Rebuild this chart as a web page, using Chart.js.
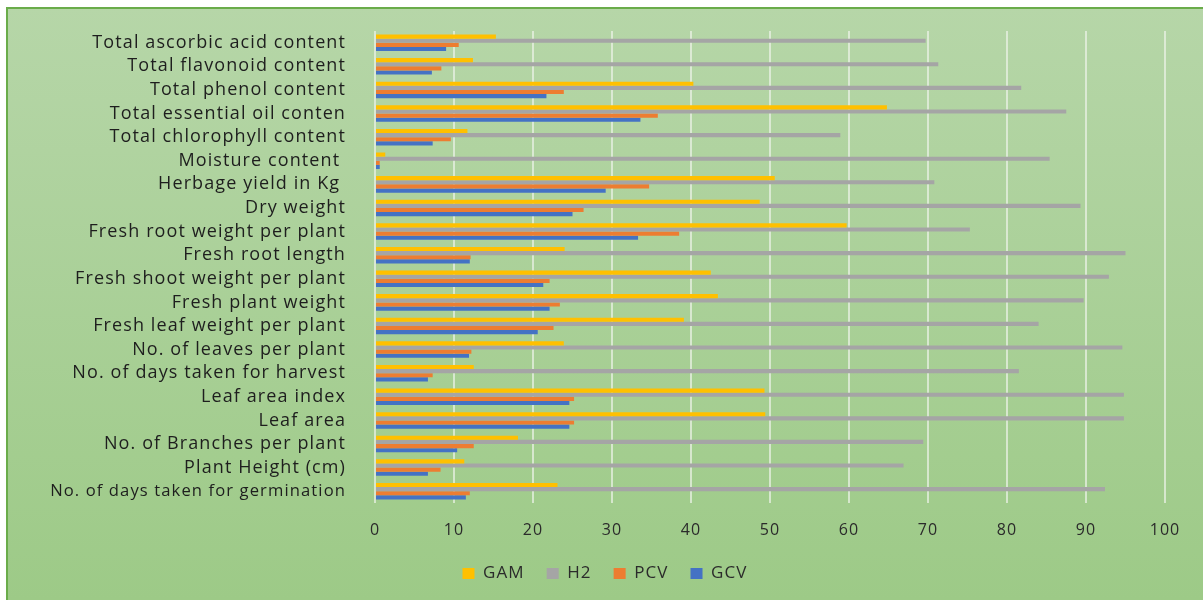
<!DOCTYPE html>
<html>
<head>
<meta charset="utf-8">
<script src="https://cdn.jsdelivr.net/npm/chart.js@4/dist/chart.umd.min.js"></script>
<style>
html,body{margin:0;padding:0;background:#fff;}
#wrap{width:1203px;height:600px;position:relative;}
</style>
</head>
<body>
<div id="wrap"><canvas id="c" width="1203" height="600"></canvas></div>
<script>
const categories = [
  "Total ascorbic acid content",
  "Total flavonoid content",
  "Total phenol content",
  "Total essential oil conten",
  "Total chlorophyll content",
  "Moisture content ",
  "Herbage yield in Kg ",
  "Dry weight",
  "Fresh root weight per plant",
  "Fresh root length",
  "Fresh shoot weight per plant",
  "Fresh plant weight",
  "Fresh leaf weight per plant",
  "No. of leaves per plant",
  "No. of days taken for harvest",
  "Leaf area index",
  "Leaf area",
  "No. of Branches per plant",
  "Plant Height (cm)",
  "No. of days taken for germination"
];
const GAM = [15.3, 12.4, 40.3, 64.8, 11.7, 1.3, 50.6, 48.7, 59.7, 24.0, 42.5, 43.4, 39.1, 23.9, 12.5, 49.3, 49.4, 18.1, 11.3, 23.1];
const H2  = [69.7, 71.3, 81.8, 87.5, 58.9, 85.4, 70.8, 89.3, 75.3, 95.0, 92.9, 89.7, 84.0, 94.6, 81.5, 94.8, 94.8, 69.4, 66.9, 92.4];
const PCV = [10.6, 8.4, 23.9, 35.8, 9.6, 0.6, 34.7, 26.4, 38.5, 12.1, 22.1, 23.4, 22.6, 12.2, 7.3, 25.2, 25.2, 12.5, 8.3, 12.0];
const GCV = [9.0, 7.2, 21.7, 33.6, 7.3, 0.6, 29.2, 25.0, 33.3, 12.0, 21.3, 22.1, 20.6, 11.9, 6.7, 24.6, 24.6, 10.4, 6.7, 11.5];
const xTicks = [0, 10, 20, 30, 40, 50, 60, 70, 80, 90, 100];

const PAD_LEFT = 45;
const PAD_BOTTOM = 8;
const PLOT_BOTTOM = 503;

const spacingPlugin = {
  id: 'spacing',
  beforeInit(chart) { chart.ctx.letterSpacing = '1.1px'; },
  beforeUpdate(chart) { chart.ctx.letterSpacing = '1.1px'; }
};

const bgPlugin = {
  id: 'bg',
  beforeDraw(chart) {
    const ctx = chart.ctx;
    const w = chart.width, h = chart.height;
    ctx.save();
    ctx.fillStyle = '#ffffff';
    ctx.fillRect(0, 0, w, h);
    const g = ctx.createLinearGradient(0, 7, 0, h);
    g.addColorStop(0, '#b6d6a8');
    g.addColorStop(1, '#9dca87');
    ctx.fillStyle = g;
    ctx.fillRect(6, 7, w, h);
    ctx.strokeStyle = '#6aac4a';
    ctx.lineWidth = 2;
    ctx.strokeRect(7, 8, w + 10, h + 10);
    ctx.restore();
  }
};

new Chart(document.getElementById('c'), {
  type: 'bar',
  data: {
    labels: categories,
    datasets: [
      { label: 'GAM', data: GAM, backgroundColor: '#FFC000' },
      { label: 'H2',  data: H2,  backgroundColor: '#A5A5A5' },
      { label: 'PCV', data: PCV, backgroundColor: '#ED7D31' },
      { label: 'GCV', data: GCV, backgroundColor: '#4472C4' }
    ]
  },
  options: {
    indexAxis: 'y',
    responsive: false,
    animation: false,
    devicePixelRatio: 1,
    layout: { padding: { top: 30, right: 38, bottom: PAD_BOTTOM, left: PAD_LEFT } },
    datasets: { bar: { categoryPercentage: 0.7, barPercentage: 1.0 } },
    scales: {
      x: {
        min: 0, max: 100,
        afterBuildTicks(scale) { scale.ticks = xTicks.map(v => ({ value: v })); },
        grid: { color: 'rgba(236,242,232,0.7)', lineWidth: 2, drawTicks: false },
        border: { display: false },
        ticks: { padding: 18, color: '#2b2b2b', font: { family: 'Open Sans', size: 16 } },
        afterFit(scale) {
          const lh = scale.chart.legend ? scale.chart.legend.height : 50;
          scale.height = 600 - PLOT_BOTTOM - PAD_BOTTOM - lh;
        }
      },
      y: {
        grid: { display: false },
        border: { display: false },
        ticks: {
          padding: 21, color: '#1e1e1e', autoSkip: false,
          font: (ctx) => ({ family: 'Open Sans', size: (ctx.index === categories.length - 1) ? 16.6 : 18 })
        },
        afterFit(scale) { scale.width = 375 - PAD_LEFT; }
      }
    },
    plugins: {
      legend: {
        position: 'bottom',
        labels: { boxWidth: 12, boxHeight: 11, padding: 22, color: '#2b2b2b', font: { family: 'Open Sans', size: 17 } }
      },
      tooltip: { enabled: false }
    }
  },
  plugins: [spacingPlugin, bgPlugin]
});
</script>
</body>
</html>
